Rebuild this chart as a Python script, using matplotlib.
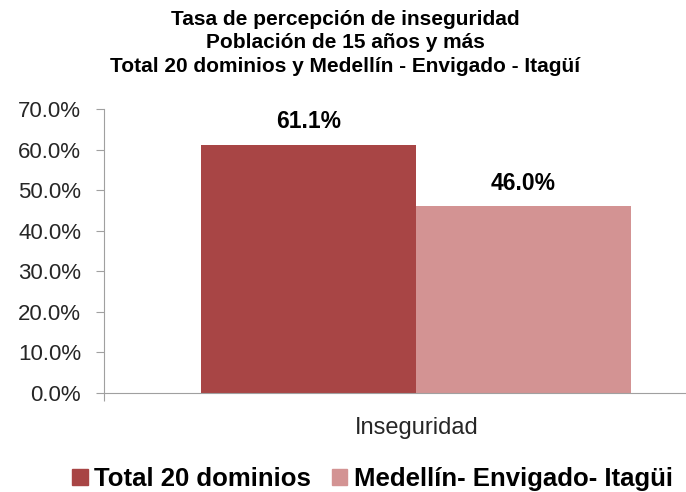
import matplotlib
matplotlib.use("Agg")
import matplotlib.pyplot as plt
from matplotlib.ticker import FuncFormatter

plt.rcParams['font.family'] = ['Liberation Sans', 'DejaVu Sans']

category = "Inseguridad"
series = ["Total 20 dominios", "Medellín- Envigado- Itagüi"]
values = [61.1, 46.0]
colors = ["#A84545", "#D39393"]
title = ("Tasa de percepción de inseguridad\n"
         "Población de 15 años y más\n"
         "Total 20 dominios y Medellín - Envigado - Itagüí")

fig = plt.figure(figsize=(6.86, 4.92), dpi=100)
ax = fig.add_axes([0.1516, 0.2012, 0.8484, 0.5773])

offsets = [-0.5, 0.5]
for off, v, c, lab in zip(offsets, values, colors, series):
    ax.bar(off, v, width=1.0, color=c, label=lab)
    ax.text(off, v + 4.1, f"{v:.1f}%", ha="center", va="baseline",
            fontsize=16.5, fontweight="bold", color="black")

ax.set_xlim(-1.451, 1.256)
ax.set_ylim(0, 70)
ax.set_yticks(range(0, 71, 10))
ax.yaxis.set_major_formatter(FuncFormatter(lambda y, _: f"{y:.1f}%"))
ax.set_xticks([-1.451])
ax.set_xticklabels([""])
ax.tick_params(axis="y", length=6, color="#A0A0A0", labelsize=16,
               labelcolor="#262626", pad=10.5)
ax.tick_params(axis="x", length=6, color="#A0A0A0", direction="out")
for s in ["top", "right"]:
    ax.spines[s].set_visible(False)
for s in ["left", "bottom"]:
    ax.spines[s].set_color("#A0A0A0")
ax.text(0.005, -0.144, category, transform=ax.get_xaxis_transform(),
        ha="center", va="baseline", fontsize=17, color="#262626")

fig.text(0.503, 1 - 10 / 492, title, ha="center", va="top", fontsize=15,
         fontweight="bold", linespacing=1.3)

handles = [plt.Rectangle((0, 0), 1, 1, color=c) for c in colors]
fig.legend(handles, series, loc="center", bbox_to_anchor=(0.543, 0.026),
           ncol=2, frameon=False,
           prop={"weight": "bold", "size": 18.5},
           handlelength=0.6, handleheight=0.6, handletextpad=0.25,
           columnspacing=0.8, borderaxespad=0, borderpad=0)

fig.savefig("out.png", dpi=100)
